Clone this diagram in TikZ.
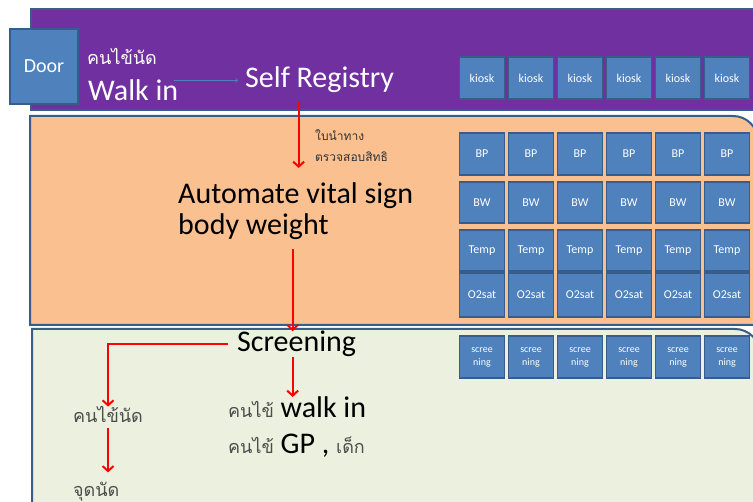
\documentclass[tikz,border=0pt]{standalone}
\usepackage{fontspec}
\setmainfont{Carlito}
\newfontfamily\thaifont[Script=Thai]{Loma}
\usetikzlibrary{arrows}
\usetikzlibrary{arrows.meta}
\usetikzlibrary{positioning}
\definecolor{purpleband}{HTML}{7030A0}
\definecolor{orangeband}{HTML}{FAC090}
\definecolor{greenband}{HTML}{EBF1DE}
\definecolor{blockfill}{HTML}{4F81BD}
\definecolor{blockline}{HTML}{385D8A}
\newcommand{\thaiword}[1]{{\thaifont\fontsize{18}{20}\selectfont\color{black!70}#1}}
\tikzset{
	band/.style = {
		draw=blockline,
		line width=2pt
	},
	node_block/.style = {
		rectangle,
		draw=blockline,
		fill=blockfill,
		line width=1.8pt,
		text=white,
		inner sep=0pt,
		align=center,
		minimum width=45pt,
		font=\fontsize{12}{13}\selectfont
	},
	node_door/.style = {
		node_block,
		minimum width=68pt,
		minimum height=75pt,
		font=\fontsize{20}{22}\selectfont
	},
	node_text/.style = {
		inner sep=0pt,
		anchor=base west
	},
	node_big/.style = {
		node_text,
		font=\fontsize{30}{31}\selectfont
	},
	node_thai/.style = {
		node_text,
		text=black!70,
		font=\thaifont\fontsize{18}{20}\selectfont
	},
	node_note/.style = {
		node_text,
		text=black!80,
		font=\thaifont\fontsize{12}{14}\selectfont
	},
	flow/.style = {
		->,
		>={Straight Barb[length=5pt, width=11pt]},
		red,
		line width=2pt
	},
	link/.style = {
		->,
		>=to,
		blockfill,
		line width=0.8pt
	},
}
\begin{document}
\begin{tikzpicture}[x=1pt, y=-1pt]
\useasboundingbox (0,0) rectangle (753,502);
\clip (0,0) rectangle (753,502);
% bands
\draw [band, fill=purpleband] (31,9) rectangle (780,110);
\draw [band, fill=orangeband] (30,325) -- (30,116) -- (733,116)
	arc [start angle=-90, end angle=0, radius=25] -- (758,325) -- cycle;
\draw [band, fill=greenband] (32,530) -- (32,329) -- (735,329)
	arc [start angle=-90, end angle=0, radius=25] -- (760,530) -- cycle;

% door
\node [node_door] (door) at (44,66.5) {Door};

% stations
\foreach \i in {1,...,6}
	\node [node_block, minimum height=42pt] (kiosk-\i) at (433+49*\i,78) {kiosk};
\foreach \row/\y/\h/\txt in {bp/154/42/BP, bw/202.5/41/BW, temp/250.5/41/Temp, o2sat/295/44/O2sat}
	\foreach \i in {1,...,6}
		\node [node_block, minimum height=\h pt] (\row-\i) at (433+49*\i,\y) {\txt};
\foreach \i in {1,...,6}
	\node [node_block, minimum height=42pt, font=\fontsize{10}{13}\selectfont] (scr-\i) at (433+49*\i,357) {scree\\ning};

% texts
\node [node_thai, text=white] (appt_in) at (87,65) {คนไข้นัด};
\node [node_big, text=white] (walkin) at (88,101) {Walk in};
\node [node_big, text=white] (registry) at (245,88) {Self Registry};
\node [node_note] (slip) at (315,141) {ใบนำทาง};
\node [node_note] (rights) at (315,162) {ตรวจสอบสิทธิ};
\node [node_big, anchor=north west, align=left] (vital) at (178,182) {Automate vital sign\\body weight};
\node [node_big] (screening) at (237,352) {Screening};
\node [node_thai] (appt) at (73,423) {คนไข้นัด};
\node [node_thai] (point) at (73,497) {จุดนัด};
\node [node_big] (walkin_gp) at (228,418) {\thaiword{คนไข้} walk in};
\node [node_big] (gp) at (228,454) {\thaiword{คนไข้} GP , \thaiword{เด็ก}};

% connectors
\draw [link, shorten <=-4pt, shorten >=7pt] (registry.west -| walkin.east) -- (registry.west);
\draw [flow, shorten <=9pt, shorten >=14pt] ([xshift=3pt]registry.south -| vital.north) -- ([xshift=3pt]vital.north);
\draw [flow, shorten <=10pt] ([xshift=-3pt]vital.south) -- ([xshift=-3pt]vital.south |- screening.north);
\draw [flow, shorten <=9pt] (screening.west) -| (appt.north);
\draw [flow] ([xshift=-4pt]screening.south) -- ([xshift=-4pt]screening.south |- walkin_gp.north);
\draw [flow, shorten <=5pt, shorten >=10pt] (appt.south) -- (appt.south |- point.north);
\end{tikzpicture}
\end{document}
